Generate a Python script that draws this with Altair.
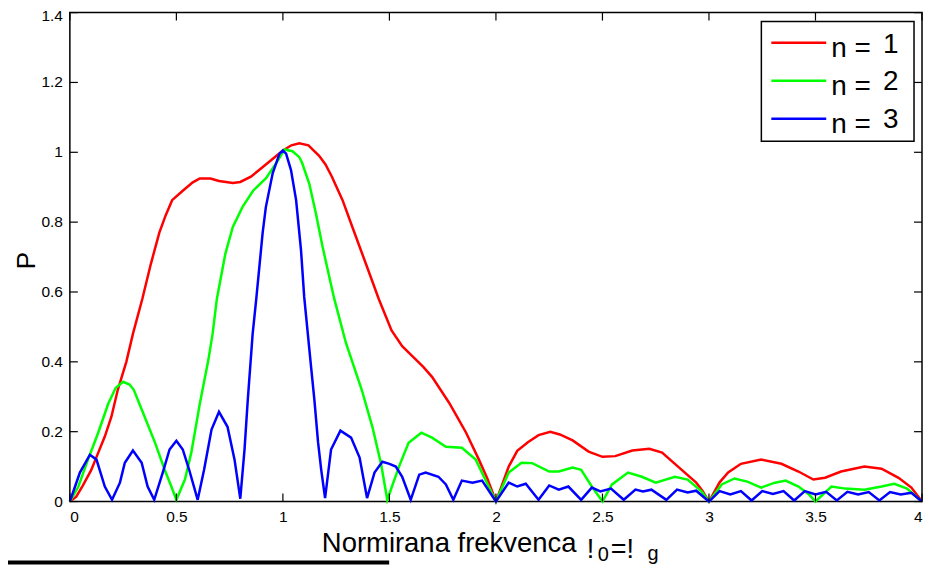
import altair as alt
import pandas as pd

series_names = ["n = 1", "n = 2", "n = 3"]
series_colors = ["#ff0000", "#00ff00", "#0000ff"]

red_x = [0, 0.03, 0.06, 0.1, 0.13, 0.164, 0.195, 0.225, 0.265, 0.296, 0.34, 0.38, 0.42, 0.45, 0.48,
         0.53, 0.577, 0.61, 0.66, 0.7, 0.765, 0.8, 0.85, 0.9, 0.95, 1.0, 1.04, 1.077, 1.12, 1.17,
         1.2, 1.23, 1.28, 1.326, 1.39, 1.45, 1.51, 1.56, 1.61, 1.66, 1.70, 1.74, 1.78, 1.82, 1.86,
         1.92, 1.96, 2.0, 2.03, 2.06, 2.1, 2.15, 2.2, 2.255, 2.3, 2.36, 2.435, 2.5, 2.56, 2.64,
         2.72, 2.78, 2.86, 2.94, 2.97, 3.0, 3.05, 3.09, 3.15, 3.245, 3.34, 3.42, 3.49, 3.545, 3.62,
         3.73, 3.81, 3.89, 3.95, 4.0]
red_y = [0, 0.014, 0.045, 0.09, 0.135, 0.186, 0.243, 0.32, 0.40, 0.48, 0.58, 0.68, 0.77, 0.82, 0.863,
         0.89, 0.914, 0.925, 0.925, 0.918, 0.912, 0.915, 0.93, 0.955, 0.98, 1.005, 1.02, 1.026, 1.02, 0.99,
         0.965, 0.93, 0.863, 0.786, 0.68, 0.58, 0.49, 0.445, 0.415, 0.385, 0.357, 0.32, 0.283, 0.24, 0.197,
         0.12, 0.065, 0.0, 0.05, 0.1, 0.145, 0.17, 0.19, 0.2, 0.192, 0.175, 0.143, 0.128, 0.13, 0.146,
         0.151, 0.14, 0.097, 0.054, 0.03, 0.0, 0.055, 0.083, 0.108, 0.12, 0.108, 0.086, 0.063, 0.068, 0.086,
         0.1, 0.094, 0.068, 0.04, 0.0]

green_x = [0, 0.04, 0.085, 0.133, 0.18, 0.215, 0.25, 0.28, 0.30, 0.35, 0.40, 0.445, 0.475, 0.50, 0.54,
           0.57, 0.61, 0.65, 0.67, 0.69, 0.73, 0.765, 0.81, 0.86, 0.92, 0.97, 1.007, 1.045, 1.077, 1.09,
           1.124, 1.155, 1.186, 1.24, 1.296, 1.37, 1.42, 1.46, 1.49, 1.545, 1.59, 1.65, 1.70, 1.765, 1.84,
           1.905, 1.95, 2.0, 2.06, 2.12, 2.17, 2.25, 2.295, 2.36, 2.40, 2.45, 2.50, 2.545, 2.62, 2.685,
           2.75, 2.84, 2.90, 2.965, 3.0, 3.06, 3.12, 3.18, 3.245, 3.31, 3.36, 3.42, 3.47, 3.5, 3.575,
           3.64, 3.73, 3.81, 3.87, 3.93, 3.98, 4.0]
green_y = [0, 0.043, 0.12, 0.197, 0.28, 0.325, 0.343, 0.335, 0.32, 0.244, 0.168, 0.091, 0.045, 0.005, 0.063,
           0.14, 0.28, 0.405, 0.48, 0.58, 0.71, 0.786, 0.843, 0.89, 0.925, 0.97, 1.008, 1.003, 0.986, 0.97,
           0.91, 0.825, 0.73, 0.583, 0.454, 0.32, 0.214, 0.11, 0.005, 0.1, 0.168, 0.197, 0.183, 0.157, 0.154,
           0.12, 0.063, 0.0, 0.083, 0.111, 0.11, 0.086, 0.086, 0.097, 0.091, 0.043, 0.0, 0.049, 0.083, 0.071,
           0.054, 0.071, 0.063, 0.029, 0.0, 0.049, 0.066, 0.057, 0.04, 0.054, 0.06, 0.043, 0.02, 0.0, 0.043,
           0.037, 0.034, 0.043, 0.051, 0.037, 0.01, 0.0]

blue_x = [0, 0.047, 0.094, 0.125, 0.164, 0.198, 0.235, 0.258, 0.296, 0.337, 0.365, 0.396, 0.436, 0.468, 0.50,
          0.53, 0.56, 0.60, 0.63, 0.665, 0.70, 0.74, 0.773, 0.80, 0.82, 0.835, 0.858, 0.875, 0.905, 0.92,
          0.952, 0.984, 1.0, 1.015, 1.038, 1.062, 1.085, 1.1, 1.132, 1.148, 1.165, 1.18, 1.198, 1.226, 1.27,
          1.32, 1.36, 1.395, 1.43, 1.467, 1.5, 1.53, 1.56, 1.60, 1.64, 1.67, 1.73, 1.765, 1.80, 1.84, 1.89,
          1.935, 2.0, 2.06, 2.10, 2.14, 2.2, 2.25, 2.295, 2.34, 2.4, 2.45, 2.49, 2.54, 2.6, 2.655,
          2.69, 2.73, 2.8, 2.85, 2.90, 2.94, 3.0, 3.05, 3.1, 3.15, 3.2, 3.25, 3.3, 3.35, 3.4,
          3.45, 3.5, 3.55, 3.6, 3.65, 3.7, 3.75, 3.8, 3.85, 3.9, 3.95, 4.0]
blue_y = [0, 0.083, 0.134, 0.12, 0.043, 0.005, 0.054, 0.111, 0.146, 0.111, 0.043, 0.005, 0.083, 0.149, 0.174,
          0.149, 0.091, 0.005, 0.091, 0.206, 0.257, 0.214, 0.12, 0.008, 0.15, 0.29, 0.48, 0.58, 0.77, 0.843,
          0.94, 0.996, 1.005, 0.996, 0.949, 0.863, 0.72, 0.586, 0.387, 0.29, 0.17, 0.09, 0.01, 0.149, 0.203,
          0.183, 0.126, 0.01, 0.083, 0.114, 0.108, 0.1, 0.071, 0.005, 0.077, 0.083, 0.071, 0.049, 0.005, 0.06, 0.054,
          0.06, 0.0, 0.054, 0.043, 0.051, 0.005, 0.046, 0.034, 0.043, 0.005, 0.04, 0.029, 0.037, 0.005, 0.034,
          0.029, 0.034, 0.005, 0.034, 0.026, 0.031, 0.0, 0.03, 0.02, 0.03, 0.003, 0.03, 0.022, 0.03, 0.003,
          0.03, 0.02, 0.028, 0.003, 0.028, 0.02, 0.027, 0.003, 0.027, 0.02, 0.025, 0.0]

x_ticks = [0, 0.5, 1, 1.5, 2, 2.5, 3, 3.5, 4]
y_ticks = [0, 0.2, 0.4, 0.6, 0.8, 1.0, 1.2, 1.4]

rows = []
for name, xs, ys in zip(series_names, [red_x, green_x, blue_x], [red_y, green_y, blue_y]):
    for i, (a, b) in enumerate(zip(xs, ys)):
        rows.append({"series": name, "f": a, "P": b, "order": i})
df = pd.DataFrame(rows)

FONT = "Liberation Sans"
W, H = 854, 490

x_scale = alt.Scale(domain=[0, 4], nice=False, zero=False)
y_scale = alt.Scale(domain=[0, 1.4], nice=False, zero=False)

x_enc = alt.X("f:Q", scale=x_scale, axis=alt.Axis(
    values=x_ticks, format="~g", ticks=False, domain=False, grid=False,
    labelFontSize=15.5, labelPadding=8, labelColor="black", labelFont=FONT,
    title="Normirana frekvenca", titleFontSize=27.5, titleFontWeight="normal", titleFont=FONT,
    titleColor="black", titleX=252, titleY=50, titleAlign="left", titleBaseline="alphabetic"))
y_enc = alt.Y("P:Q", scale=y_scale, axis=alt.Axis(
    values=y_ticks, labels=False, ticks=False, domain=False, grid=False,
    title="P", titleFontSize=26, titleFontWeight="normal", titleFont=FONT, titleColor="black",
    titleAngle=270, titleX=-43, titleY=248, titleAlign="center", titleBaseline="middle"))

lines = alt.Chart(df).mark_line(strokeWidth=2.5).encode(
    x=x_enc,
    y=y_enc,
    color=alt.Color("series:N", scale=alt.Scale(domain=series_names, range=series_colors), legend=None),
    order="order:Q",
)

xt = pd.DataFrame({"f": x_ticks})
yt = pd.DataFrame({"P": y_ticks, "label": [f"{v:g}" for v in y_ticks]})
TL = 8
tick_style = dict(color="black", strokeWidth=1.2)
bottom_ticks = alt.Chart(xt).mark_rule(**tick_style).encode(x=x_enc, y=alt.value(H), y2=alt.value(H - TL))
top_ticks = alt.Chart(xt).mark_rule(**tick_style).encode(x=x_enc, y=alt.value(0), y2=alt.value(TL))
left_ticks = alt.Chart(yt).mark_rule(**tick_style).encode(y=y_enc, x=alt.value(0), x2=alt.value(TL))
right_ticks = alt.Chart(yt).mark_rule(**tick_style).encode(y=y_enc, x=alt.value(W), x2=alt.value(W - TL))

ylab_style = dict(align="right", baseline="middle", fontSize=15.5, font=FONT, color="black")
y_labels = alt.Chart(yt.iloc[:-1]).mark_text(**ylab_style).encode(y=y_enc, x=alt.value(-7), text="label:N")
y_label_top = alt.Chart(yt.iloc[-1:]).mark_text(dy=3, **ylab_style).encode(y=y_enc, x=alt.value(-7), text="label:N")

dummy = pd.DataFrame({"a": [0]})
def txt(s, x, y, size, color="black"):
    return alt.Chart(dummy).mark_text(text=s, align="left", baseline="alphabetic", fontSize=size,
                                      font=FONT, color=color).encode(x=alt.value(x), y=alt.value(y))

sym1 = txt("!", 518, 547, 27)
sub1 = txt("0", 529, 550, 20)
sym2 = txt("=!", 542, 547, 27)
sub2 = txt("g", 579, 549, 20)

underline = alt.Chart(dummy).mark_rule(color="black", strokeWidth=4).encode(
    x=alt.value(-62), x2=alt.value(320), y=alt.value(551))

# legend (drawn as a boxed key)
legend_layers = [
    alt.Chart(dummy).mark_rect(fill="white", stroke="black", strokeWidth=1.5).encode(
        x=alt.value(693), x2=alt.value(846), y=alt.value(9), y2=alt.value(129))
]
for i, (name, col) in enumerate(zip(series_names, series_colors)):
    ly = 30.3 + i * 38
    legend_layers.append(alt.Chart(dummy).mark_rule(color=col, strokeWidth=2.5).encode(
        x=alt.value(703), x2=alt.value(758), y=alt.value(ly)))
    legend_layers.append(txt("n =", 763, ly + 14.5, 28))
    legend_layers.append(txt(name.split()[-1], 815, ly + 9.7, 28))

chart = alt.layer(
    lines, bottom_ticks, top_ticks, left_ticks, right_ticks, y_labels, y_label_top,
    sym1, sub1, sym2, sub2, underline, *legend_layers
).properties(
    width=W, height=H,
    padding={"left": 62, "top": 4, "right": 2, "bottom": 64},
    autosize=alt.AutoSizeParams(type="none"),
).configure(font=FONT).configure_view(stroke="black", strokeWidth=1.5)

chart.save("out.html", embed_options={"renderer": "svg", "actions": False})
